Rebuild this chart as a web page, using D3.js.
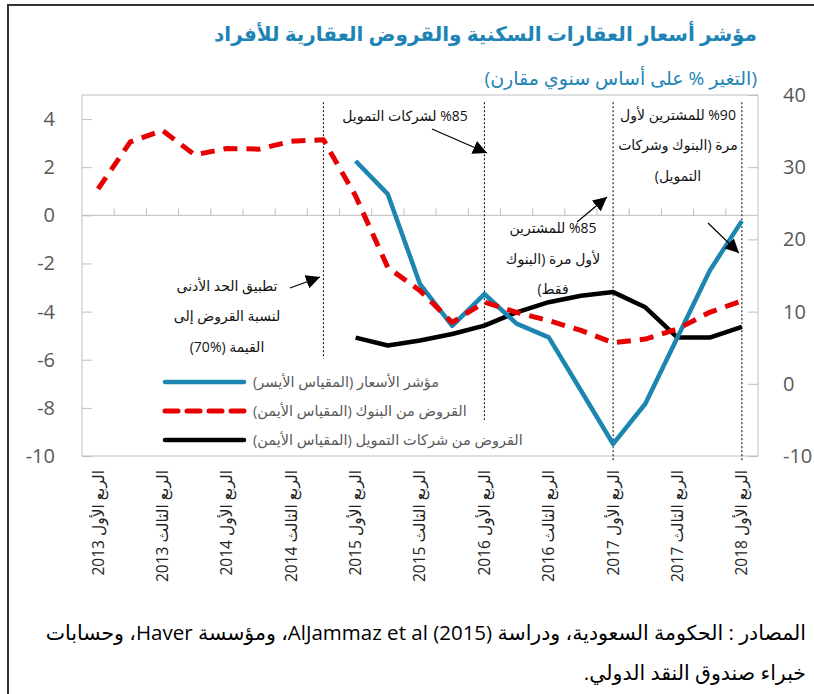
<!DOCTYPE html>
<html>
<head>
<meta charset="utf-8">
<script src="https://cdn.jsdelivr.net/npm/d3@7"></script>
<style>
  html, body { margin: 0; padding: 0; background: #fff; }
  svg { display: block; }
  text { font-family: "Open Sans", "DejaVu Sans", sans-serif; }
</style>
</head>
<body>
<svg id="chart" width="814" height="694"></svg>
<script>
// ---------------- DATA ----------------
const quarters = [
  "الربع الأول 2013", "الربع الثاني 2013", "الربع الثالث 2013", "الربع الرابع 2013",
  "الربع الأول 2014", "الربع الثاني 2014", "الربع الثالث 2014", "الربع الرابع 2014",
  "الربع الأول 2015", "الربع الثاني 2015", "الربع الثالث 2015", "الربع الرابع 2015",
  "الربع الأول 2016", "الربع الثاني 2016", "الربع الثالث 2016", "الربع الرابع 2016",
  "الربع الأول 2017", "الربع الثاني 2017", "الربع الثالث 2017", "الربع الرابع 2017",
  "الربع الأول 2018"
];
const tickLabels = [
  "الربع الأول 2013", "الربع الثالث 2013", "الربع الأول 2014", "الربع الثالث 2014",
  "الربع الأول 2015", "الربع الثالث 2015", "الربع الأول 2016", "الربع الثالث 2016",
  "الربع الأول 2017", "الربع الثالث 2017", "الربع الأول 2018"
];
// Price index (left axis)
const priceIndex = [null, null, null, null, null, null, null, null,
  2.26, 0.88, -2.86, -4.59, -3.27, -4.5, -5.07, -7.28, -9.5, -7.83, -5.07, -2.3, -0.23];
// Bank loans (right axis)
const bankLoans = [27.0, 33.5, 35.1, 31.7, 32.6, 32.5, 33.6, 33.8,
  26.0, 16.1, 12.9, 8.5, 11.3, 9.9, 8.75, 7.4, 5.7, 6.2, 7.6, 9.9, 11.5];
// Finance company loans (right axis)
const financeLoans = [null, null, null, null, null, null, null, null,
  6.4, 5.3, 6.0, 6.9, 8.05, 9.9, 11.3, 12.2, 12.7, 10.6, 6.4, 6.4, 7.9];
const leftTicks = [-10, -8, -6, -4, -2, 0, 2, 4];
const rightTicks = [-10, 0, 10, 20, 30, 40];
const eventQuarters = ["الربع الرابع 2014", "الربع الأول 2016", "الربع الأول 2017", "الربع الأول 2018"];

const title = "مؤشر أسعار العقارات السكنية والقروض العقارية للأفراد";
const subtitle = "(التغير % على أساس سنوي مقارن)";
const legendNames = [
  "مؤشر الأسعار (المقياس الأيسر)",
  "القروض من البنوك (المقياس الأيمن)",
  "القروض من شركات التمويل (المقياس الأيمن)"
];
const sourceLines = [
  "المصادر : الحكومة السعودية، ودراسة AlJammaz et al (2015)، ومؤسسة Haver، وحسابات",
  "خبراء صندوق النقد الدولي."
];

// ---------------- LAYOUT ----------------
const svg = d3.select("#chart");
const L = 82, R = 758, T = 95, B = 456;
const blue = "#1c86b1", red = "#e60000", titleBlue = "#1d84b5", axisGray = "#595959", frameGray = "#bfbfbf";

const x = d3.scaleBand().domain(quarters).range([L, R]);
const yL = d3.scaleLinear().domain([-10, 5]).range([B, T]);
const yR = d3.scaleLinear().domain([-10, 40]).range([B, T]);
const cx = q => x(q) + x.bandwidth() / 2;

// outer frame
svg.append("line").attr("x1", 8).attr("x2", 814).attr("y1", 5).attr("y2", 5).attr("stroke", "#333").attr("stroke-width", 2);
svg.append("line").attr("x1", 8).attr("x2", 8).attr("y1", 4).attr("y2", 694).attr("stroke", "#333").attr("stroke-width", 2);

// titles
svg.append("text").attr("x", 757).attr("y", 41).attr("direction", "rtl").attr("text-anchor", "start")
  .attr("font-size", 20).attr("font-weight", "bold").attr("fill", titleBlue).text(title);
svg.append("text").attr("x", 757).attr("y", 85).attr("direction", "rtl").attr("text-anchor", "start")
  .attr("font-size", 19).attr("fill", titleBlue).text(subtitle);

// plot border
svg.append("rect").attr("x", L).attr("y", T).attr("width", R - L).attr("height", B - T)
  .attr("fill", "none").attr("stroke", frameGray).attr("stroke-width", 1);

// left axis
const gL = svg.append("g").attr("transform", `translate(${L},0)`)
  .call(d3.axisLeft(yL).tickValues(leftTicks).tickSize(-10).tickPadding(27).tickFormat(d => String(d)));
gL.select(".domain").remove();
gL.selectAll(".tick line").attr("stroke", frameGray);
gL.selectAll(".tick text").attr("font-size", 20).attr("fill", axisGray).attr("font-family", "Open Sans, sans-serif");

// right axis
const gR = svg.append("g").attr("transform", `translate(${R},0)`)
  .call(d3.axisRight(yR).tickValues(rightTicks).tickSize(-10).tickPadding(25).tickFormat(d => String(d)));
gR.select(".domain").remove();
gR.selectAll(".tick line").attr("stroke", frameGray);
gR.selectAll(".tick text").attr("font-size", 20).attr("fill", axisGray).attr("font-family", "Open Sans, sans-serif");

// zero line with small category ticks
const y0 = yL(0);
svg.append("line").attr("x1", L).attr("x2", R).attr("y1", y0).attr("y2", y0).attr("stroke", frameGray);
svg.append("g").selectAll("line").data(quarters.slice(1)).join("line")
  .attr("x1", d => x(d)).attr("x2", d => x(d)).attr("y1", y0).attr("y2", y0 - 7)
  .attr("stroke", frameGray);

// x labels
svg.append("g").selectAll("text").data(tickLabels).join("text")
  .attr("transform", d => `translate(${cx(d)},470) rotate(-90)`)
  .attr("direction", "rtl").attr("text-anchor", "start").attr("dy", "0.35em")
  .attr("font-size", 15.5).attr("fill", "#222").text(d => d);

// event lines
const evTop = [4.7, 4.7, 4.7, 4.7], evBottom = [-5.95, -8.5, -10.25, -10.2];
svg.append("g").selectAll("line").data(eventQuarters).join("line")
  .attr("x1", d => cx(d)).attr("x2", d => cx(d))
  .attr("y1", (d, i) => yL(evTop[i])).attr("y2", (d, i) => yL(evBottom[i]))
  .attr("stroke", "#000").attr("stroke-width", 1).attr("stroke-dasharray", "2,2");

// series
const lineL = d3.line().defined(d => d.v != null).x(d => cx(d.q)).y(d => yL(d.v));
const lineR = d3.line().defined(d => d.v != null).x(d => cx(d.q)).y(d => yR(d.v));
const pack = arr => quarters.map((q, i) => ({ q, v: arr[i] }));

svg.append("path").datum(pack(financeLoans)).attr("d", lineR)
  .attr("fill", "none").attr("stroke", "#000").attr("stroke-width", 4.5).attr("stroke-linejoin", "round");
svg.append("path").datum(pack(priceIndex)).attr("d", lineL)
  .attr("fill", "none").attr("stroke", blue).attr("stroke-width", 4.5).attr("stroke-linejoin", "round");
svg.append("path").datum(pack(bankLoans)).attr("d", lineR)
  .attr("fill", "none").attr("stroke", red).attr("stroke-width", 5).attr("stroke-dasharray", "14,9")
  .attr("stroke-linejoin", "round");

// arrows
const defs = svg.append("defs");
defs.append("marker").attr("id", "ah").attr("viewBox", "0 0 10 10").attr("refX", 10).attr("refY", 5)
  .attr("markerWidth", 14).attr("markerHeight", 14).attr("markerUnits", "userSpaceOnUse").attr("orient", "auto")
  .append("path").attr("d", "M0,0 L10,5 L0,10 z").attr("fill", "#000");

const arrows = [
  [290, 288, 320, 277],
  [432, 129, 487, 153],
  [577, 222, 607, 197],
  [708, 223, 739, 253]
];
svg.append("g").selectAll("line").data(arrows).join("line")
  .attr("x1", d => d[0]).attr("y1", d => d[1]).attr("x2", d => d[2]).attr("y2", d => d[3])
  .attr("stroke", "#000").attr("stroke-width", 1.2).attr("marker-end", "url(#ah)");

// annotations
const notes = [
  { x: 227, y: [291, 321, 352], lines: ["تطبيق الحد الأدنى", "لنسبة القروض إلى", "القيمة (%70)"] },
  { x: 405, y: [121], lines: ["%85 لشركات التمويل"] },
  { x: 678, y: [120, 150, 181], lines: ["%90 للمشترين لأول", "مرة (البنوك وشركات", "التمويل)"] },
  { x: 553, y: [233, 264, 294], lines: ["%85 للمشترين", "لأول مرة (البنوك", "فقط)"] }
];
notes.forEach(n => {
  n.lines.forEach((t, i) => {
    svg.append("text").attr("x", n.x).attr("y", n.y[i]).attr("direction", "rtl").attr("text-anchor", "middle")
      .attr("font-size", 14).attr("fill", "#111").text(t);
  });
});

// legend
const legY = [382, 411, 440];
const legStyles = [
  { c: blue, dash: null, w: 4.5 },
  { c: red, dash: "13,9", w: 5 },
  { c: "#000", dash: null, w: 4.5 }
];
legendNames.forEach((name, i) => {
  svg.append("line").attr("x1", 165).attr("x2", 244).attr("y1", legY[i]).attr("y2", legY[i])
    .attr("stroke", legStyles[i].c).attr("stroke-width", legStyles[i].w)
    .attr("stroke-dasharray", legStyles[i].dash).attr("stroke-linecap", "round");
  svg.append("text").attr("x", 253).attr("y", legY[i]).attr("dy", "0.35em")
    .attr("direction", "rtl").attr("text-anchor", "end")
    .attr("font-size", 14.5).attr("fill", axisGray).text(name);
});

// source
svg.append("text").attr("x", 806).attr("y", 640).attr("direction", "rtl").attr("text-anchor", "start")
  .attr("font-size", 20.5).attr("fill", "#000").attr("font-family", "Liberation Sans, DejaVu Sans, sans-serif").text(sourceLines[0]);
svg.append("text").attr("x", 806).attr("y", 680).attr("direction", "rtl").attr("text-anchor", "start")
  .attr("font-size", 20.5).attr("fill", "#000").attr("font-family", "Liberation Sans, DejaVu Sans, sans-serif").text(sourceLines[1]);
</script>
</body>
</html>
